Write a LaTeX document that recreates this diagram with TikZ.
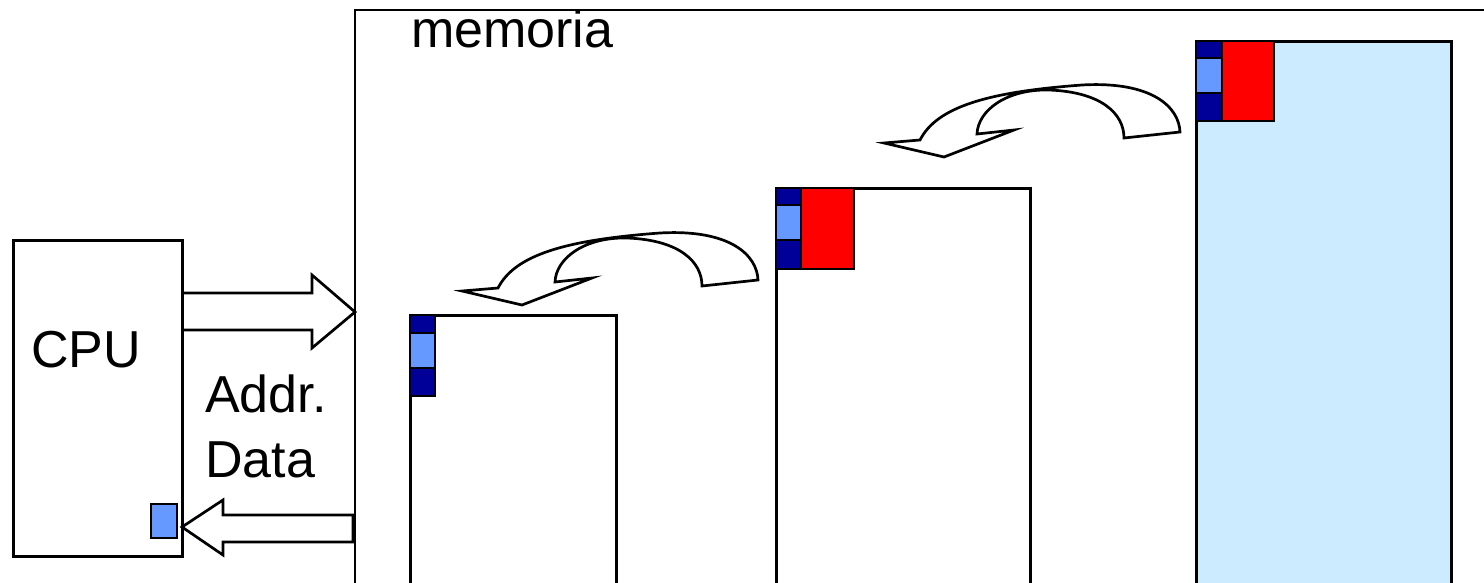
\documentclass[tikz,border=0pt]{standalone}
\usepackage{fontspec}
\setmainfont{Liberation Sans}
\definecolor{cellDark}{HTML}{000099}
\definecolor{cellLight}{HTML}{6699FF}
\definecolor{cellRed}{HTML}{FF0000}
\definecolor{memFill}{HTML}{CCEBFF}
\tikzset{
  box/.style={draw=black, line width=2.6pt, inner sep=0pt, anchor=north west},
  cell/.style={draw=black, line width=2.3pt, inner sep=0pt, anchor=north west},
  cellD/.style={cell, fill=cellDark},
  cellL/.style={cell, fill=cellLight},
  cellR/.style={cell, fill=cellRed},
  barrow/.style={draw=black, line width=2.7pt, line join=miter},
  lbl/.style={font=\fontsize{52}{65}\selectfont, inner sep=0pt, anchor=base west}
}
\begin{document}
\begin{tikzpicture}[x=1pt,y=-1pt]
\useasboundingbox (0,0) rectangle (1484,583);
\clip (0,0) rectangle (1484,583);

% memory
\node[box, line width=2.2pt, minimum width=1200pt, minimum height=700pt] (mem) at (354,9) {};
\node[lbl] (memlbl) at (411,48) {memoria};

% CPU
\node[box, minimum width=169pt, minimum height=316pt] (cpu) at (12,239) {};
\node[lbl] (cpulbl) at (31,367) {CPU};
\node[cellL, minimum width=26pt, minimum height=34pt] (reg) at (150,503) {};

% bus labels
\node[lbl] (addr) at (205,412) {Addr.};
\node[lbl] (data) at (205,477) {Data};

% bus arrows
\draw[barrow] (181,293) -- (312,293) -- (312,275) -- (355,312) -- (312,348) -- (312,330) -- (181,330);
\draw[barrow] (353,515) -- (223,515) -- (223,500) -- (182,527) -- (223,555) -- (223,542) -- (353,542) -- cycle;

% level 1
\node[box, minimum width=206pt, minimum height=400pt] (b1) at (409,314) {};
\node[cellD, minimum width=25pt, minimum height=18pt] (b1a) at (409,314) {};
\node[cellL, minimum width=25pt, minimum height=35pt] (b1b) at (409,332) {};
\node[cellD, minimum width=25pt, minimum height=28pt] (b1c) at (409,367) {};

% level 2
\node[box, minimum width=254pt, minimum height=500pt] (b2) at (775,187) {};
\node[cellR, minimum width=53pt, minimum height=81pt] (b2r) at (800,187) {};
\node[cellD, minimum width=25pt, minimum height=17pt] (b2a) at (775,187) {};
\node[cellL, minimum width=25pt, minimum height=35pt] (b2b) at (775,204) {};
\node[cellD, minimum width=25pt, minimum height=29pt] (b2c) at (775,239) {};

% level 3
\node[box, fill=memFill, minimum width=255pt, minimum height=600pt] (b3) at (1195,40) {};
\node[cellR, minimum width=52pt, minimum height=80pt] (b3r) at (1221,40) {};
\node[cellD, minimum width=26pt, minimum height=17pt] (b3a) at (1195,40) {};
\node[cellL, minimum width=26pt, minimum height=35pt] (b3b) at (1195,57) {};
\node[cellD, minimum width=26pt, minimum height=28pt] (b3c) at (1195,92) {};

% curved arrows
\foreach \dx/\dy in {0/0, 422/-148} {
\begin{scope}[shift={(\dx,\dy)}]
\draw[barrow] (758,280) -- (702,286)
  .. controls (702,262) and (680,240) .. (627,238)
  .. controls (585,237) and (556,258) .. (555,282)
  -- (592,278) -- (522,305) -- (462,291) -- (498,288)
  .. controls (515,255) and (565,240) .. (660,233)
  .. controls (730,229) and (757,255) .. (758,280) -- cycle;
\end{scope}
}
\end{tikzpicture}
\end{document}
